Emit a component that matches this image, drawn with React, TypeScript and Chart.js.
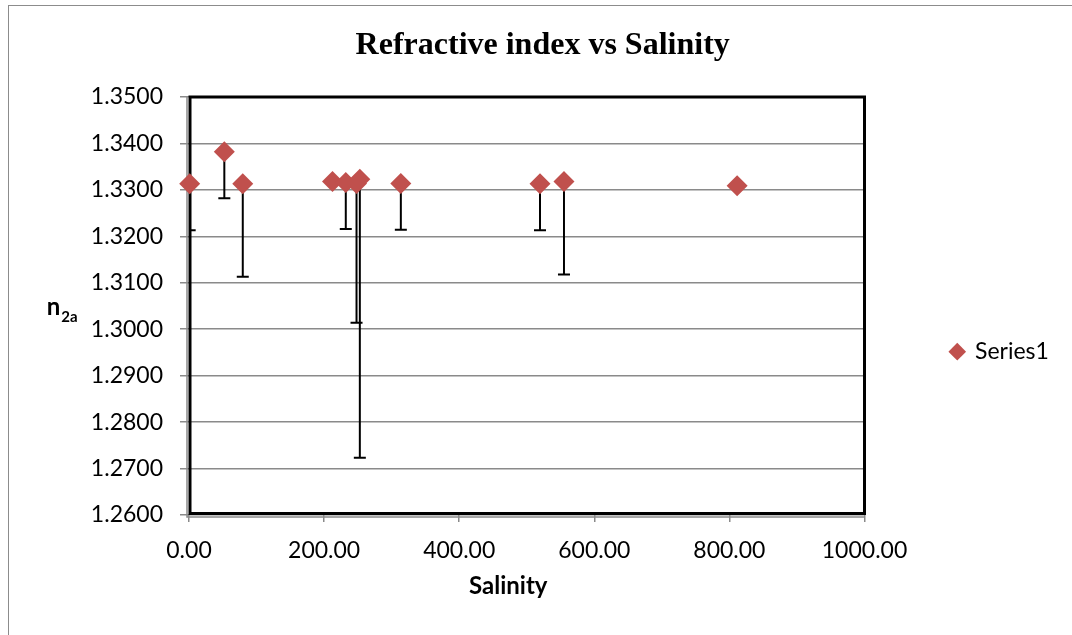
import React, { useEffect, useRef } from "react";
import { Chart, registerables } from "chart.js";

Chart.register(...registerables);

// ---- data ----
const salinity = [1.0, 52.3, 79.6, 212.4, 232.1, 248.0, 252.9, 313.6, 519.6, 555.1, 811.4];
const refractiveIndex = [1.3313, 1.3382, 1.3313, 1.3318, 1.3316, 1.3314, 1.3323, 1.3314, 1.3313, 1.3318, 1.3309];
const errorMinus = [0.01, 0.01, 0.02, 0, 0.01, 0.03, 0.06, 0.01, 0.01, 0.02, 0];
const seriesName = "Series1";
const chartTitle = "Refractive index vs Salinity";
const xAxisTitle = "Salinity";
const yAxisTitleMain = "n";
const yAxisTitleSub = "2a";
const xRange = [0, 1000];
const xStep = 200;
const yRange = [1.26, 1.35];
const yStep = 0.01;

const W = 1072;
const H = 635;
const TICK_FONT = "Lato";
const TICK_SIZE = 23;
const LEGEND_PAD = 86.5;
const BOX = 12.5;
const TARGET_RIGHT = 864.5;

const decorPlugin = {
  id: "decor",
  beforeDatasetsDraw(chart: any) {
    const { ctx, chartArea: a, scales } = chart;
    const xs = scales.x;
    const ys = scales.y;
    ctx.save();
    // gray outer axis lines
    ctx.strokeStyle = "#8a8a8a";
    ctx.lineWidth = 1.5;
    ctx.beginPath();
    ctx.moveTo(a.left - 2, a.top);
    ctx.lineTo(a.left - 2, a.bottom + 2);
    ctx.lineTo(a.right, a.bottom + 2);
    ctx.stroke();
    // black frame
    ctx.strokeStyle = "#000";
    ctx.lineWidth = 3;
    ctx.strokeRect(a.left + 1, a.top, a.right - a.left - 1, a.bottom - a.top - 1.5);
    // error bars (minus direction)
    ctx.beginPath();
    ctx.rect(a.left, a.top, a.right - a.left, a.bottom - a.top);
    ctx.clip();
    ctx.strokeStyle = "#000";
    ctx.lineWidth = 2;
    for (let i = 0; i < salinity.length; i++) {
      if (!errorMinus[i]) continue;
      const px = xs.getPixelForValue(salinity[i]);
      const py = ys.getPixelForValue(refractiveIndex[i]);
      const pl = ys.getPixelForValue(refractiveIndex[i] - errorMinus[i]);
      ctx.beginPath();
      ctx.moveTo(px, py);
      ctx.lineTo(px, pl);
      ctx.moveTo(px - 6, pl);
      ctx.lineTo(px + 6, pl);
      ctx.stroke();
    }
    ctx.restore();
  },
  afterDraw(chart: any) {
    const { ctx, chartArea: a } = chart;
    ctx.save();
    ctx.fillStyle = "#000";
    ctx.textBaseline = "alphabetic";
    // x axis title
    ctx.font = `bold 24px ${TICK_FONT}`;
    ctx.textAlign = "center";
    ctx.fillText(xAxisTitle, (a.left + a.right) / 2 - 18.5, a.bottom + 79.3);
    // y axis title with subscript
    ctx.textAlign = "left";
    const yx = a.left - 142.3;
    const yy = (a.top + a.bottom) / 2 + 9;
    ctx.font = `bold 24px ${TICK_FONT}`;
    ctx.fillText(yAxisTitleMain, yx, yy);
    const nw = ctx.measureText(yAxisTitleMain).width;
    ctx.font = `bold 15px ${TICK_FONT}`;
    ctx.fillText(yAxisTitleSub, yx + nw + 1, yy + 6.7);
    ctx.restore();
  },
};

export default function App() {
  const ref = useRef<HTMLCanvasElement | null>(null);

  useEffect(() => {
    const canvas = ref.current;
    if (!canvas) return;
    const mctx = canvas.getContext("2d")!;
    mctx.font = `${TICK_SIZE}px ${TICK_FONT}`;
    const textW = mctx.measureText(seriesName).width;
    const legendW = LEGEND_PAD + BOX + TICK_SIZE / 2 + textW + 10;
    const padL = 26.5;
    let padR = W - TARGET_RIGHT - legendW;

    const chart = new Chart(canvas, {
      type: "scatter",
      data: {
        datasets: [
          {
            label: seriesName,
            data: salinity.map((x, i) => ({ x, y: refractiveIndex[i] })),
            pointStyle: "rectRot",
            pointRadius: 10.5,
            pointHoverRadius: 10.5,
            backgroundColor: "#C0504D",
            borderColor: "#C0504D",
            borderWidth: 0,
            clip: false,
          } as any,
        ],
      },
      options: {
        responsive: false,
        animation: false,
        events: [],
        layout: { padding: { left: padL, right: padR, top: 0, bottom: 0 } },
        plugins: {
          tooltip: { enabled: false },
          title: {
            display: true,
            text: chartTitle,
            color: "#000",
            font: { family: "Liberation Serif", size: 32, weight: "bold", lineHeight: 1.2 },
            padding: { top: 26.5, bottom: 32.1 },
          },
          legend: {
            display: true,
            position: "right",
            align: "center",
            title: {
              display: true,
              text: " ",
              font: { size: 10, lineHeight: 1.2 },
              padding: { top: 56.4, bottom: 0 },
            },
            labels: {
              usePointStyle: true,
              pointStyle: "rectRot",
              boxWidth: BOX,
              boxHeight: BOX,
              padding: LEGEND_PAD,
              color: "#000",
              font: { family: TICK_FONT, size: TICK_SIZE },
            },
          },
        },
        scales: {
          x: {
            type: "linear",
            min: xRange[0],
            max: xRange[1],
            afterFit: (s: any) => {
              s.height = 120;
            },
            ticks: {
              stepSize: xStep,
              color: "#000",
              padding: 15,
              font: { family: TICK_FONT, size: TICK_SIZE },
              callback: (v: any) => Number(v).toFixed(2),
              maxRotation: 0,
            },
            grid: {
              display: true,
              drawOnChartArea: false,
              drawTicks: true,
              tickLength: 7,
              color: "#8a8a8a",
              lineWidth: 1.5,
            },
            border: { display: false },
          },
          y: {
            type: "linear",
            min: yRange[0],
            max: yRange[1],
            afterFit: (s: any) => {
              s.width = 189 - padL;
            },
            ticks: {
              stepSize: yStep,
              color: "#000",
              padding: 17,
              font: { family: TICK_FONT, size: TICK_SIZE },
              callback: (v: any) => Number(v).toFixed(4),
            },
            grid: {
              display: true,
              drawOnChartArea: true,
              drawTicks: true,
              tickLength: 9,
              color: "#8a8a8a",
              lineWidth: 1.5,
            },
            border: { display: false },
          },
        },
      },
      plugins: [decorPlugin],
    });

    // fine-tune right padding so plot area ends at target
    const diff = chart.chartArea.right - TARGET_RIGHT;
    if (Math.abs(diff) > 0.5) {
      padR += diff;
      (chart.options.layout as any).padding.right = padR;
      chart.update();
    }

    return () => chart.destroy();
  }, []);

  return (
    <div style={{ position: "absolute", left: 0, top: 0, width: W, height: H, background: "#fff", overflow: "hidden" }}>
      <canvas ref={ref} width={W} height={H} style={{ display: "block", position: "absolute", left: 0, top: 0 }} />
      <div
        style={{
          position: "absolute",
          left: 8,
          top: 5,
          width: W,
          height: H,
          borderLeft: "1px solid #8c8c8c",
          borderTop: "1px solid #8c8c8c",
          pointerEvents: "none",
        }}
      />
    </div>
  );
}
